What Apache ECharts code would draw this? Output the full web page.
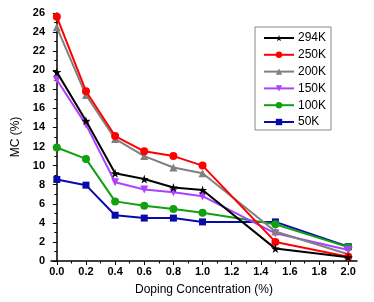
<!DOCTYPE html>
<html><head><meta charset="utf-8">
<script src="https://cdn.jsdelivr.net/npm/echarts@6/dist/echarts.min.js"></script>
<style>html,body{margin:0;padding:0;background:#fff}#c{width:374px;height:302px}</style>
</head><body><div id="c"></div>
<script>
const doping = [0.0, 0.2, 0.4, 0.6, 0.8, 1.0, 1.5, 2.0];
const seriesNames = ['294K', '250K', '200K', '150K', '100K', '50K'];
const mc294 = [19.8, 14.7, 9.2, 8.6, 7.7, 7.45, 1.3, 0.4];
const mc250 = [25.6, 17.8, 13.1, 11.5, 11.0, 10.0, 2.0, 0.45];
const mc200 = [24.5, 17.4, 12.8, 11.0, 9.8, 9.2, 3.1, 0.7];
const mc150 = [19.0, 14.3, 8.25, 7.5, 7.2, 6.8, 2.9, 1.15];
const mc100 = [11.9, 10.7, 6.25, 5.8, 5.45, 5.05, 3.85, 1.45];
const mc50 = [8.55, 7.95, 4.8, 4.5, 4.5, 4.1, 4.1, 1.5];
const xMajorTicks = [0.0, 0.2, 0.4, 0.6, 0.8, 1.0, 1.2, 1.4, 1.6, 1.8, 2.0];
const xMinorTicks = [0.1, 0.3, 0.5, 0.7, 0.9, 1.1, 1.3, 1.5, 1.7, 1.9];

const allValues = [mc294, mc250, mc200, mc150, mc100, mc50];
const colors = ['#000000', '#ff0000', '#808080', '#b040ff', '#10a010', '#0a0aa8'];
const star = 'path://M50,0 L61,35 L98,35 L68,57 L79,91 L50,70 L21,91 L32,57 L2,35 L39,35 Z';
const symbols = [star, 'circle', 'triangle', 'triangle', 'circle', 'rect'];
const rotates = [0, 0, 0, 180, 0, 0];
const sizes = [9, 8, 8, 8, 8, 7];

const font = 'Liberation Sans, Arial, sans-serif';
const series = seriesNames.map((n, i) => ({
  name: n, type: 'line', xAxisIndex: 0,
  data: doping.map((x, j) => [x, allValues[i][j]]),
  symbol: symbols[i], symbolSize: sizes[i], symbolRotate: rotates[i],
  itemStyle: {color: colors[i]},
  lineStyle: {color: colors[i], width: 2},
  z: 10 - i
}));

const chart = echarts.init(document.getElementById('c'), null, {renderer: 'canvas'});
chart.setOption({
  animation: false,
  backgroundColor: '#fff',
  grid: {left: 51, right: 17, top: 13, bottom: 41, containLabel: false},
  legend: {
    orient: 'vertical', left: 255, top: 27,
    data: seriesNames,
    itemWidth: 30, itemHeight: 8, itemGap: 2.8,
    borderColor: '#888', borderWidth: 1, padding: [4, 5, 1, 8],
    textStyle: {fontFamily: font, fontSize: 12, lineHeight: 14, color: '#000', padding: [0, 0, 0, -1]}
  },
  xAxis: [{
    type: 'value', min: -0.04, max: 2.06,
    name: 'Doping Concentration (%)', nameLocation: 'middle', nameGap: 23,
    nameTextStyle: {fontFamily: font, fontSize: 12, color: '#000'},
    axisLine: {lineStyle: {color: '#000', width: 1.5}},
    axisTick: {show: true, length: 4, customValues: xMajorTicks, lineStyle: {color: '#000'}},
    axisLabel: {customValues: xMajorTicks, fontFamily: font, fontWeight: 'bold', fontSize: 11, color: '#000', margin: 5,
      formatter: v => v.toFixed(1)},
    splitLine: {show: false}
  }, {
    type: 'value', min: -0.04, max: 2.06, position: 'bottom',
    axisLine: {show: false},
    axisTick: {show: true, length: 2.5, customValues: xMinorTicks, lineStyle: {color: '#000'}},
    axisLabel: {show: false},
    splitLine: {show: false}
  }],
  yAxis: {
    type: 'value', min: 0, max: 26, interval: 2,
    name: 'MC (%)', nameLocation: 'middle', nameGap: 28,
    nameTextStyle: {fontFamily: font, fontSize: 12, color: '#000'},
    axisLine: {show: true, lineStyle: {color: '#000', width: 1.5}},
    axisTick: {show: true, length: 4, lineStyle: {color: '#000'}},
    minorTick: {show: true, splitNumber: 2, length: 2.5, lineStyle: {color: '#000'}},
    axisLabel: {fontFamily: font, fontWeight: 'bold', fontSize: 11, color: '#000', margin: 6},
    splitLine: {show: false}
  },
  series: series
});
</script></body></html>
